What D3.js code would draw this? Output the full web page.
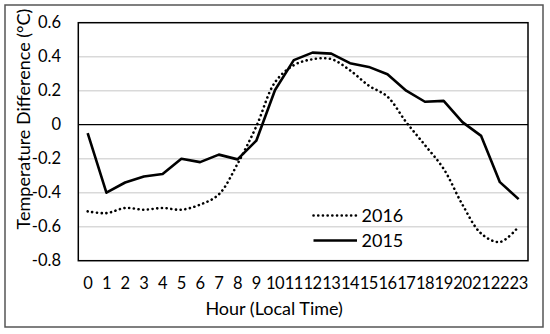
<!DOCTYPE html>
<html>
<head>
<meta charset="utf-8">
<script src="https://cdn.jsdelivr.net/npm/d3@7"></script>
<style>
  html, body { margin: 0; padding: 0; background: #fff; }
  text { font-family: Lato, "Open Sans", sans-serif; fill: #000; }
</style>
</head>
<body>
<svg id="chart" width="550" height="334"></svg>
<script>
const hours = ["0","1","2","3","4","5","6","7","8","9","10","11","12","13","14","15","16","17","18","19","20","21","22","23"];
const yTicks = [-0.8, -0.6, -0.4, -0.2, 0, 0.2, 0.4, 0.6];
const values2016 = [-0.51,-0.52,-0.49,-0.50,-0.49,-0.50,-0.47,-0.41,-0.23,-0.01,0.25,0.35,0.385,0.386,0.32,0.23,0.165,0.015,-0.12,-0.26,-0.47,-0.64,-0.69,-0.60];
const values2015 = [-0.05,-0.40,-0.34,-0.305,-0.29,-0.20,-0.22,-0.176,-0.204,-0.094,0.204,0.38,0.424,0.418,0.362,0.34,0.297,0.2,0.135,0.14,0.015,-0.066,-0.338,-0.438];
const seriesNames = ["2016", "2015"];
const xTitle = "Hour (Local Time)";
const yTitle = "Temperature Difference (\u00B0C)";

const svg = d3.select("#chart");
const plot = {left: 78.3, right: 528, top: 22.7, bottom: 260.7};

// outer frame
svg.append("rect").attr("x", 5).attr("y", 5).attr("width", 538).attr("height", 322)
  .attr("fill", "#fff").attr("stroke", "#555").attr("stroke-width", 1.5);

const x = d3.scaleBand().domain(hours).range([plot.left, plot.right]).padding(0);
const y = d3.scaleLinear().domain([-0.8, 0.6]).range([plot.bottom, plot.top]);
const cx = h => x(h) + x.bandwidth() / 2;

// gridlines
svg.append("g").selectAll("line").data(yTicks.filter(t => t !== 0 && t !== 0.6 && t !== -0.8)).join("line")
  .attr("x1", plot.left).attr("x2", plot.right)
  .attr("y1", d => y(d)).attr("y2", d => y(d))
  .attr("stroke", "#d9d9d9").attr("stroke-width", 1.5);

// zero line
svg.append("line").attr("x1", plot.left).attr("x2", plot.right)
  .attr("y1", y(0)).attr("y2", y(0)).attr("stroke", "#000").attr("stroke-width", 1.2);

// plot border
svg.append("rect").attr("x", plot.left).attr("y", plot.top)
  .attr("width", plot.right - plot.left).attr("height", plot.bottom - plot.top)
  .attr("fill", "none").attr("stroke", "#000").attr("stroke-width", 1.5);

// y axis labels (hyphen minus, as in the reference)
const locale = d3.formatLocale({decimal: ".", thousands: ",", grouping: [3], currency: ["", ""], minus: "-"});
const yAxis = d3.axisLeft(y).tickValues(yTicks).tickSize(0).tickPadding(0)
  .tickFormat(d => d === 0 ? "0" : locale.format(".1f")(d));
const gy = svg.append("g").attr("transform", `translate(61,0)`).call(yAxis);
gy.select(".domain").remove();
gy.selectAll("text").attr("font-size", 16.5).attr("font-family", "Lato, sans-serif").attr("fill", "#000");

// x axis labels
const xAxis = d3.axisBottom(x).tickSize(0).tickPadding(0);
const gx = svg.append("g").attr("transform", `translate(0,277)`).call(xAxis);
gx.select(".domain").remove();
gx.selectAll("text").attr("font-size", 16.5).attr("font-family", "Lato, sans-serif").attr("fill", "#000")
  .attr("letter-spacing", -0.5);

// axis titles
svg.append("text").attr("x", (plot.left + plot.right) / 2 - 29).attr("y", 314.5)
  .attr("text-anchor", "middle").attr("font-size", 18).text(xTitle);
svg.append("text").attr("transform", "translate(29.5,119) rotate(-90)")
  .attr("text-anchor", "middle").attr("font-size", 18).text(yTitle);

// lines
const line2015 = d3.line().x((d, i) => cx(hours[i])).y(d => y(d));
const line2016 = d3.line().x((d, i) => cx(hours[i])).y(d => y(d)).curve(d3.curveCatmullRom.alpha(0.5));

svg.append("path").datum(values2016).attr("d", line2016)
  .attr("fill", "none").attr("stroke", "#000").attr("stroke-width", 2.6)
  .attr("stroke-linecap", "round").attr("stroke-dasharray", "0.1 4.6");
svg.append("path").datum(values2015).attr("d", line2015)
  .attr("fill", "none").attr("stroke", "#000").attr("stroke-width", 2.6)
  .attr("stroke-linejoin", "round");

// legend
const legend = svg.append("g");
const legY = [215.5, 240.5];
seriesNames.forEach((name, i) => {
  legend.append("line").attr("x1", 313.5).attr("x2", 357).attr("y1", legY[i]).attr("y2", legY[i])
    .attr("stroke", "#000").attr("stroke-width", 2.6)
    .attr("stroke-linecap", i === 0 ? "round" : "butt")
    .attr("stroke-dasharray", i === 0 ? "0.1 4.6" : null);
  legend.append("text").attr("x", 361.5).attr("y", legY[i] + 6.5).attr("font-size", 18).text(name);
});
</script>
</body>
</html>
